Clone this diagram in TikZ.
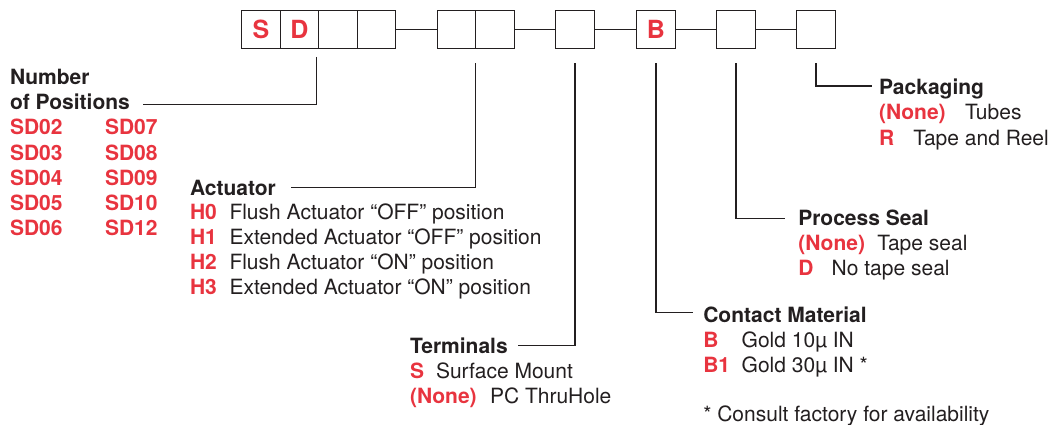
\documentclass[tikz,border=0pt]{standalone}
\usepackage{fontspec}
\setmainfont{TeX Gyre Heros}
\definecolor{pred}{HTML}{E8343F}
\definecolor{ink}{HTML}{231F20}
\begin{document}
\begin{tikzpicture}[x=1pt,y=-1pt,
  every node/.style={inner sep=0pt, outer sep=0pt},
  txt/.style={anchor=base west, font=\fontsize{21}{25}\selectfont, text=ink},
  hd/.style={anchor=base west, font=\fontsize{21}{25}\selectfont\bfseries, text=ink},
  cd/.style={anchor=base west, font=\fontsize{21}{25}\selectfont\bfseries, text=pred},
  cell/.style={draw=ink, line width=1.4pt, minimum width=38.5pt, minimum height=38pt, font=\fontsize{25}{25}\selectfont\bfseries, text=pred},
  lead/.style={draw=ink, line width=1.3pt}]
\useasboundingbox (0,0) rectangle (1048,425);

% code boxes
\node[cell] (b1) at (261,29.5) {S};
\node[cell] (b2) at (299.5,29.5) {D};
\node[cell] (b3) at (338,29.5) {};
\node[cell] (b4) at (376.5,29.5) {};
\node[cell] (b5) at (456.5,29.5) {};
\node[cell] (b6) at (495,29.5) {};
\node[cell] (b7) at (575,29.5) {};
\node[cell] (b8) at (656,29.5) {B};
\node[cell] (b9) at (736,29.5) {};
\node[cell] (b10) at (816,29.5) {};
\draw[lead] (b4.east) -- (b5.west);
\draw[lead] (b6.east) -- (b7.west);
\draw[lead] (b7.east) -- (b8.west);
\draw[lead] (b8.east) -- (b9.west);
\draw[lead] (b9.east) -- (b10.west);

% Number of positions
\node[hd] (nnum) at (10,85) {Number};
\node[hd] (npos) at (10,109.5) {of Positions};
\node[cd] (sd02) at (10,135) {SD02};
\node[cd] (sd03) at (10,160) {SD03};
\node[cd] (sd04) at (10,185) {SD04};
\node[cd] (sd05) at (10,210) {SD05};
\node[cd] (sd06) at (10,235) {SD06};
\node[cd] (sd07) at (105,135) {SD07};
\node[cd] (sd08) at (105,160) {SD08};
\node[cd] (sd09) at (105,185) {SD09};
\node[cd] (sd10) at (105,210) {SD10};
\node[cd] (sd12) at (105,235) {SD12};

% Actuator
\node[hd] (nact) at (190,195) {Actuator};
\node[cd] (h0) at (190,219.5) {H0};
\node[cd] (h1) at (190,244) {H1};
\node[cd] (h2) at (190,269) {H2};
\node[cd] (h3) at (190,294) {H3};
\node[txt] (h0d) at (229.5,219.5) {Flush Actuator “OFF” position};
\node[txt] (h1d) at (229.5,244) {Extended Actuator “OFF” position};
\node[txt] (h2d) at (229.5,269) {Flush Actuator “ON” position};
\node[txt] (h3d) at (229.5,294) {Extended Actuator “ON” position};

% Terminals
\node[hd] (nter) at (410,353.3) {Terminals};
\node[cd] (ts) at (410,378.5) {S};
\node[txt] (tsd) at (436,378.5) {Surface Mount};
\node[cd] (tn) at (410,403.5) {(None)};
\node[txt] (tnd) at (490,403.5) {PC ThruHole};

% Contact material
\node[hd] (ncon) at (703.3,322.3) {Contact Material};
\node[cd] (cb) at (703.3,347.3) {B};
\node[txt] (cbd) at (741.7,347.3) {Gold 10µ IN};
\node[cd] (cb1) at (703.3,372) {B1};
\node[txt] (cb1d) at (741.7,372) {Gold 30µ IN *};
\node[txt] (note) at (703.3,421.5) {* Consult factory for availability};

% Process seal
\node[hd] (nproc) at (798.3,225.7) {Process Seal};
\node[cd] (pn) at (798.3,250.7) {(None)};
\node[txt] (pnd) at (877.3,250.7) {Tape seal};
\node[cd] (pd) at (798.3,275.5) {D};
\node[txt] (pdd) at (831.7,275.5) {No tape seal};

% Packaging
\node[hd] (npack) at (879,95) {Packaging};
\node[cd] (kn) at (879,120) {(None)};
\node[txt] (knd) at (965,120) {Tubes};
\node[cd] (kr) at (879,145) {R};
\node[txt] (krd) at (913.3,145) {Tape and Reel};

% leaders
\draw[lead] ([xshift=-2.5pt,yshift=-8.5pt]b2.south east) |- ([xshift=13pt,yshift=5pt]npos.base east);
\draw[lead] ([yshift=-15pt]b5.south east) |- ([xshift=15pt,yshift=7.5pt]nact.base east);
\draw[lead] ([yshift=-15pt]b7.south) |- ([xshift=10pt,yshift=7.5pt]nter.base east);
\draw[lead] ([yshift=-15pt]b8.south) |- ([xshift=-10pt,yshift=9.5pt]ncon.base west);
\draw[lead] ([yshift=-15pt]b9.south) |- ([xshift=-13pt,yshift=7.5pt]nproc.base west);
\draw[lead] ([yshift=-15pt]b10.south) |- ([xshift=-7pt,yshift=9pt]npack.base west);
\end{tikzpicture}
\end{document}
